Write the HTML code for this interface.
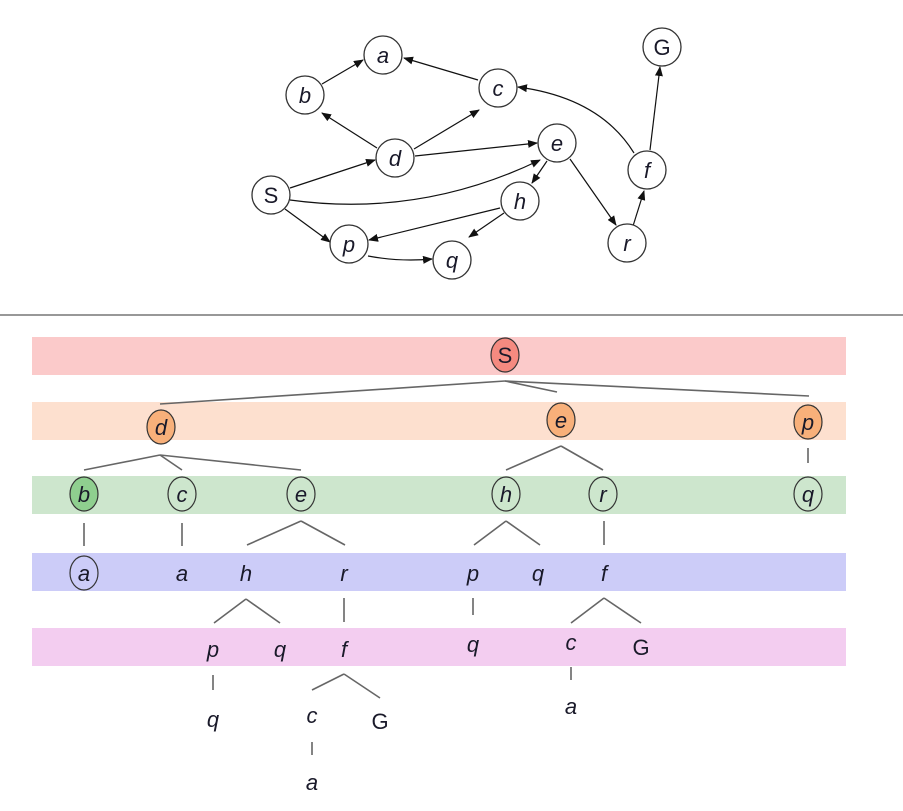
<!DOCTYPE html>
<html><head><meta charset="utf-8"><style>
html,body{margin:0;padding:0;background:#fff;}
svg{display:block;}
text{font-family:"Liberation Sans",sans-serif;font-size:22px;font-style:italic;text-anchor:middle;fill:#1a1a2a;}
.n{fill:#fff;stroke:#333;stroke-width:1.3;}
.e{stroke:#111;stroke-width:1.2;fill:none;marker-end:url(#ar);}
.t{stroke:#666;stroke-width:1.6;fill:none;}
.tn{stroke:#333;stroke-width:1.2;}
</style></head><body>
<svg width="903" height="811" viewBox="0 0 903 811">
<defs><marker id="ar" markerWidth="10" markerHeight="8" refX="9" refY="4" orient="auto" markerUnits="userSpaceOnUse"><path d="M0,0 L10,4 L0,8 z" fill="#111"/></marker></defs>
<!-- graph edges -->
<line class="e" x1="322" y1="84" x2="363" y2="60"/>
<line class="e" x1="478" y1="80" x2="404" y2="58"/>
<line class="e" x1="377" y1="148" x2="322" y2="113"/>
<line class="e" x1="414" y1="149" x2="479" y2="110"/>
<line class="e" x1="415" y1="156" x2="537" y2="143"/>
<line class="e" x1="290" y1="188" x2="375" y2="160"/>
<path class="e" d="M290,200 Q420,218 540,160"/>
<line class="e" x1="285" y1="209" x2="330" y2="242"/>
<line class="e" x1="500" y1="208" x2="369" y2="240"/>
<line class="e" x1="504" y1="213" x2="469" y2="237"/>
<path class="e" d="M368,256 Q400,262 432,259"/>
<line class="e" x1="547" y1="161" x2="532" y2="183"/>
<line class="e" x1="570" y1="159" x2="616" y2="225"/>
<line class="e" x1="633" y1="226" x2="644" y2="191"/>
<path class="e" d="M634,153 Q600,98 518,87"/>
<line class="e" x1="650" y1="150" x2="660" y2="67"/>
<g>
<circle class="n" cx="383" cy="55" r="19"/><text x="383" y="63">a</text>
<circle class="n" cx="305" cy="95" r="19"/><text x="305" y="103">b</text>
<circle class="n" cx="498" cy="88" r="19"/><text x="498" y="96">c</text>
<circle class="n" cx="662" cy="47" r="19"/><text x="662" y="55" style="font-style:normal">G</text>
<circle class="n" cx="395" cy="158" r="19"/><text x="395" y="166">d</text>
<circle class="n" cx="557" cy="143" r="19"/><text x="557" y="151">e</text>
<circle class="n" cx="647" cy="170" r="19"/><text x="647" y="178">f</text>
<circle class="n" cx="271" cy="195" r="19"/><text x="271" y="203" style="font-style:normal">S</text>
<circle class="n" cx="520" cy="201" r="19"/><text x="520" y="209">h</text>
<circle class="n" cx="349" cy="244" r="19"/><text x="349" y="252">p</text>
<circle class="n" cx="452" cy="260" r="19"/><text x="452" y="268">q</text>
<circle class="n" cx="627" cy="243" r="19"/><text x="627" y="251">r</text>
</g>
<line x1="0" y1="315" x2="903" y2="315" stroke="#777" stroke-width="1.5"/>
<!-- bands -->
<rect x="32" y="337" width="814" height="38" fill="#fbcaca"/>
<rect x="32" y="402" width="814" height="38" fill="#fde0cf"/>
<rect x="32" y="476" width="814" height="38" fill="#cde6cd"/>
<rect x="32" y="553" width="814" height="38" fill="#ccccf8"/>
<rect x="32" y="628" width="814" height="38" fill="#f3cdf0"/>
<!-- tree lines -->
<g class="t">
<line x1="505" y1="381" x2="160" y2="404"/><line x1="505" y1="381" x2="557" y2="392"/><line x1="505" y1="381" x2="809" y2="396"/>
<line x1="160" y1="455" x2="84" y2="470"/><line x1="160" y1="455" x2="182" y2="470"/><line x1="160" y1="455" x2="301" y2="470"/>
<line x1="561" y1="446" x2="506" y2="470"/><line x1="561" y1="446" x2="603" y2="470"/>
<line x1="808" y1="448" x2="808" y2="463"/>
<line x1="84" y1="523" x2="84" y2="546"/><line x1="182" y1="523" x2="182" y2="546"/>
<line x1="301" y1="521" x2="247" y2="545"/><line x1="301" y1="521" x2="345" y2="545"/>
<line x1="506" y1="521" x2="474" y2="545"/><line x1="506" y1="521" x2="540" y2="545"/>
<line x1="604" y1="521" x2="604" y2="545"/>
<line x1="246" y1="599" x2="214" y2="623"/><line x1="246" y1="599" x2="280" y2="623"/>
<line x1="344" y1="598" x2="344" y2="622"/>
<line x1="473" y1="598" x2="473" y2="615"/>
<line x1="604" y1="598" x2="571" y2="623"/><line x1="604" y1="598" x2="641" y2="623"/>
<line x1="213" y1="675" x2="213" y2="690"/>
<line x1="344" y1="674" x2="312" y2="690"/><line x1="344" y1="674" x2="380" y2="698"/>
<line x1="571" y1="667" x2="571" y2="680"/>
<line x1="312" y1="742" x2="312" y2="755"/>
</g>
<!-- tree nodes -->
<ellipse class="tn" cx="505" cy="355" rx="14" ry="17" fill="#f58a80"/><text x="505" y="363" style="font-style:normal">S</text>
<ellipse class="tn" cx="161" cy="427" rx="14" ry="17" fill="#f8b07a"/><text x="161" y="435">d</text>
<ellipse class="tn" cx="561" cy="420" rx="14" ry="17" fill="#f8b07a"/><text x="561" y="428">e</text>
<ellipse class="tn" cx="808" cy="422" rx="14" ry="17" fill="#f8b07a"/><text x="808" y="430">p</text>
<ellipse class="tn" cx="84" cy="494" rx="14" ry="17" fill="#8fcf8f" stroke-width="2"/><text x="84" y="502">b</text>
<ellipse class="tn" cx="182" cy="494" rx="14" ry="17" fill="none"/><text x="182" y="502">c</text>
<ellipse class="tn" cx="301" cy="494" rx="14" ry="17" fill="none"/><text x="301" y="502">e</text>
<ellipse class="tn" cx="506" cy="494" rx="14" ry="17" fill="none"/><text x="506" y="502">h</text>
<ellipse class="tn" cx="603" cy="494" rx="14" ry="17" fill="none"/><text x="603" y="502">r</text>
<ellipse class="tn" cx="808" cy="494" rx="14" ry="17" fill="none"/><text x="808" y="502">q</text>
<ellipse class="tn" cx="84" cy="573" rx="14" ry="17" fill="none"/><text x="84" y="581">a</text>
<text x="182" y="581">a</text><text x="246" y="581">h</text><text x="344" y="581">r</text>
<text x="473" y="581">p</text><text x="538" y="581">q</text><text x="604" y="581">f</text>
<text x="213" y="657">p</text><text x="280" y="657">q</text><text x="344" y="657">f</text>
<text x="473" y="652">q</text><text x="571" y="650">c</text><text x="641" y="655" style="font-style:normal">G</text>
<text x="213" y="727">q</text><text x="312" y="723">c</text><text x="380" y="729" style="font-style:normal">G</text>
<text x="571" y="714">a</text>
<text x="312" y="790">a</text>
</svg>
</body></html>
